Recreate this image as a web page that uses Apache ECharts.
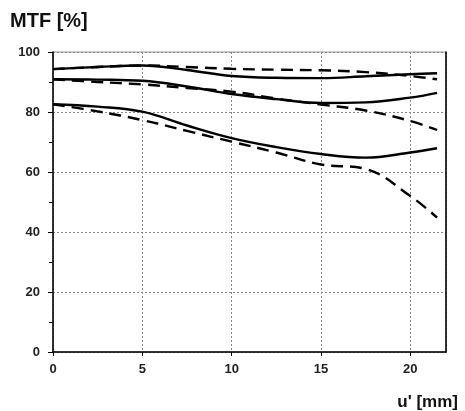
<!DOCTYPE html>
<html><head><meta charset="utf-8">
<script src="https://cdn.jsdelivr.net/npm/echarts@6/dist/echarts.min.js"></script>
<style>html,body{margin:0;padding:0;background:#fff}#c{width:465px;height:411px}</style>
</head><body><div id="c"></div>
<script>
const uPos = [0, 2.5, 5, 7.5, 10, 12.5, 15, 17.5, 20, 21.5];
const xTicks = [0, 5, 10, 15, 20];
const yTicks = [0, 20, 40, 60, 80, 100];
const solidHigh = [94.3, 95.0, 95.5, 94.0, 92.0, 91.4, 91.3, 91.9, 92.6, 92.9];
const dashHigh  = [94.3, 95.0, 95.5, 95.0, 94.4, 94.1, 93.9, 93.3, 92.0, 90.9];
const solidMid  = [90.9, 90.8, 90.4, 88.5, 86.0, 84.3, 83.0, 83.2, 84.8, 86.4];
const dashMid   = [90.9, 90.0, 89.2, 88.0, 86.8, 84.5, 82.5, 80.5, 77.0, 74.0];
const solidLow  = [82.6, 81.8, 80.1, 75.5, 71.3, 68.3, 66.0, 64.8, 66.5, 67.9];
const dashLow   = [82.6, 80.2, 77.3, 73.7, 70.1, 66.5, 62.5, 61.0, 52.0, 44.8];

const pairs = arr => uPos.map((u, i) => [u, arr[i]]);
const mk = (arr, dashed) => ({
  type: 'line', data: pairs(arr), smooth: 0.4, symbol: 'none',
  lineStyle: { color: '#000', width: 2.4, type: dashed ? [12, 7] : 'solid' }
});
const lbl = { color: '#222', fontWeight: 'bold', fontSize: 13, fontFamily: 'Liberation Sans, Arial' };

const chart = echarts.init(document.getElementById('c'));
chart.setOption({
  animation: false,
  title: [
    { text: 'MTF [%]', left: 5, top: 6, textStyle: { fontSize: 20, fontWeight: 'bold', color: '#111', fontFamily: 'Liberation Sans, Arial' } },
    { text: "u' [mm]", right: 2, top: 389, textStyle: { fontSize: 17, fontWeight: 'bold', color: '#111', fontFamily: 'Liberation Sans, Arial' } }
  ],
  grid: { left: 53, right: 19, top: 52, bottom: 59, show: true, borderColor: '#999', borderWidth: 1 },
  xAxis: {
    type: 'value', min: 0, max: 22, interval: 5,
    axisLine: { lineStyle: { color: '#000', width: 1.5 } },
    axisTick: { show: true, length: 4, lineStyle: { color: '#000' } },
    axisLabel: Object.assign({ margin: 11, showMaxLabel: false, formatter: v => xTicks.includes(v) ? String(v) : '' }, lbl),
    splitLine: { show: true, lineStyle: { color: '#888', type: [2, 2], width: 1 } }
  },
  yAxis: [{
    type: 'value', min: 0, max: 100, interval: 20,
    axisLine: { show: true, lineStyle: { color: '#000', width: 1.5 } },
    axisTick: { show: true, length: 5, lineStyle: { color: '#000' } },
    minorTick: { show: true, splitNumber: 2, length: 4, lineStyle: { color: '#000' } },
    axisLabel: Object.assign({ margin: 13, formatter: v => yTicks.includes(v) ? String(v) : '' }, lbl),
    splitLine: { show: true, lineStyle: { color: '#888', type: [2, 2], width: 1 } }
  }, {
    type: 'value', min: 0, max: 100, position: 'right',
    axisLine: { show: true, lineStyle: { color: '#000', width: 1.5 } },
    axisTick: { show: false }, axisLabel: { show: false }, splitLine: { show: false }
  }],
  series: [mk(solidHigh, false), mk(dashHigh, true), mk(solidMid, false), mk(dashMid, true), mk(solidLow, false), mk(dashLow, true)]
});
</script></body></html>
